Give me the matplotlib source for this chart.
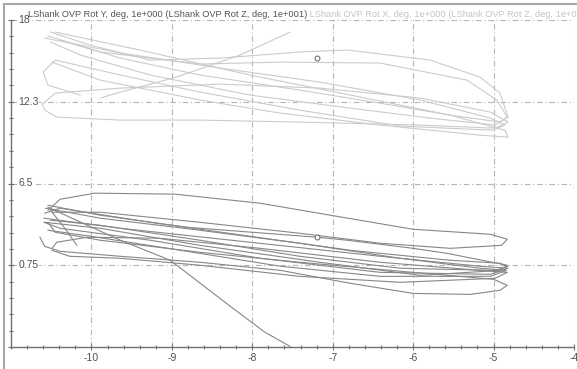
import numpy as np
import matplotlib
matplotlib.use('Agg')
import matplotlib.pyplot as plt
from matplotlib.lines import Line2D
from matplotlib.ticker import FixedLocator, MultipleLocator

plt.rcParams['font.family'] = ['Liberation Sans', 'DejaVu Sans']
plt.rcParams['axes.unicode_minus'] = False

# dark traces: LShank OVP Rot Y (y) vs LShank OVP Rot Z / 10 (x), one list per cycle
dark_x = [
    [-10.54, -10.39, -9.96, -8.96, -7.90, -7.03, -6.0, -5.04, -4.83, -4.90, -5.54, -6.41, -7.41, -8.65, -9.89, -10.49],
    [-10.58, -10.39, -9.27, -8.03, -6.78, -5.54, -4.92, -4.82, -4.98, -6.16, -7.41, -8.65, -9.89, -10.51],
    [-10.54, -9.89, -8.81, -7.19, -6.82, -6.0, -5.58, -4.83, -4.92, -5.91, -7.16, -8.65, -9.89, -10.58],
    [-10.59, -9.64, -8.03, -6.41, -5.17, -4.82, -5.04, -6.41, -7.90, -9.27, -10.39, -10.59],
    [-10.64, -10.58, -10.39, -9.64, -8.65, -7.65, -6.78, -6.0, -5.29, -4.92, -4.83, -5.0, -6.0, -7.41, -8.65, -9.89, -10.45, -10.54],
    [-10.49, -10.43, -10.05, -9.15, -7.90, -6.41, -5.17, -4.83, -4.98, -6.16, -7.41, -8.65, -9.64, -10.27, -10.49],
    [-10.57, -9.89, -8.65, -7.41, -6.16, -5.17, -4.84, -5.04, -6.41, -7.65, -8.89, -10.01, -10.54],
    [-10.54, -10.27, -9.64, -9.02, -8.24, -7.99, -7.84, -7.53],
    [-10.51, -10.33, -10.18],
]
dark_y = [
    [4.62, 5.39, 5.82, 5.75, 5.11, 4.27, 3.28, 2.93, 2.58, 2.15, 1.94, 2.30, 3.00, 3.77, 4.48, 4.48],
    [4.41, 4.76, 3.77, 2.79, 1.80, 1.10, 0.89, 0.68, 0.39, 0.54, 1.38, 2.51, 3.56, 3.92],
    [4.97, 4.27, 3.42, 2.72, 2.51, 1.94, 1.59, 0.75, 0.39, 0.04, 0.96, 2.15, 3.35, 3.77],
    [4.06, 3.35, 2.37, 1.38, 0.68, 0.54, 0.11, 0.25, 1.24, 2.51, 3.35, 3.77],
    [2.72, 2.08, 1.73, 1.38, 0.96, 0.39, -0.52, -1.23, -1.30, -1.01, -0.66, -0.24, 0.25, 0.96, 1.66, 2.51, 3.07, 3.77],
    [1.94, 2.37, 2.72, 2.65, 1.94, 0.96, 0.39, 0.25, -0.17, -0.45, -0.03, 0.75, 1.24, 1.38, 1.80],
    [4.76, 4.06, 3.21, 2.30, 1.24, 0.54, 0.39, -0.03, -0.03, 0.68, 1.80, 2.79, 3.21],
    [4.83, 4.13, 2.51, 1.10, -2.28, -3.34, -3.97, -4.96],
    [4.62, 3.35, 2.15],
]

# light traces: LShank OVP Rot X (y) vs LShank OVP Rot Z / 10 (x)
light_x = [
    [-10.51, -10.02, -9.27, -8.40, -7.41, -6.82, -5.79, -5.17, -4.92, -4.82, -4.92, -5.54, -6.41, -7.41, -8.65, -9.64, -10.39],
    [-10.54, -9.89, -8.65, -7.65, -6.41, -5.33, -4.96, -4.83, -4.98, -5.79, -6.78, -8.03, -9.27, -10.14, -10.51],
    [-10.61, -10.45, -9.64, -8.40, -7.16, -5.91, -5.04, -4.82, -4.98, -5.91, -7.41, -8.65, -9.64, -10.43, -10.58, -10.61],
    [-10.58, -9.64, -8.40, -7.16, -5.91, -5.04, -4.86, -5.0, -6.16, -7.41, -8.65, -9.64, -10.45, -10.60, -10.54, -10.14],
    [-10.45, -9.40, -8.03, -6.78, -5.54, -4.86, -4.82, -5.17, -6.41, -7.65, -8.65, -9.89, -10.49],
    [-9.89, -9.64, -8.94, -8.15, -7.53],
]
light_y = [
    [17.15, 16.24, 15.18, 15.32, 15.75, 15.89, 15.18, 13.99, 12.86, 11.17, 10.82, 11.31, 12.15, 13.07, 14.13, 15.32, 16.59],
    [16.87, 15.75, 14.90, 15.04, 14.97, 13.77, 12.37, 11.17, 10.61, 11.10, 11.80, 12.72, 14.13, 15.54, 16.45],
    [12.08, 12.86, 13.21, 13.49, 13.21, 12.51, 11.52, 10.82, 10.39, 10.61, 10.82, 10.96, 10.96, 11.17, 11.66, 12.08],
    [16.73, 15.68, 14.62, 13.63, 12.37, 11.10, 10.61, 10.25, 10.54, 11.66, 12.93, 14.13, 15.18, 14.34, 13.42, 12.72],
    [17.15, 15.89, 14.13, 12.72, 11.31, 10.25, 9.76, 9.90, 10.61, 11.45, 12.37, 13.77, 15.04],
    [12.51, 12.93, 13.99, 15.54, 17.15],
]

# current-frame cursor markers
cursor_x = [-7.19, -7.19]
cursor_y = [2.72, 15.32]

ytick_vals = [18, 12.25, 6.5, 0.75]
ytick_text = ['18', '12.3', '6.5', '0.75']
xtick_vals = [-10, -9, -8, -7, -6, -5, -4]

title_dark = 'LShank OVP Rot Y, deg, 1e+000 (LShank OVP Rot Z, deg, 1e+001)'
title_light = 'LShank OVP Rot X, deg, 1e+000 (LShank OVP Rot Z, deg, 1e+001)'

fig = plt.figure(figsize=(5.77, 3.69), dpi=100)
ax = fig.add_axes([11/577, 22/369, 563/577, 327/369])
ax.set_xlim(-11, -4)
ax.set_ylim(-5, 18)

# grid
for gx in xtick_vals:
    ax.axvline(gx, color='#b4b4b4', lw=0.8, dashes=(5, 2.5, 1, 2.5), zorder=1)
for gy in ytick_vals:
    ax.axhline(gy, color='#b4b4b4', lw=0.8, dashes=(5, 2.5, 1, 2.5), zorder=1)

for xs, ys in zip(light_x, light_y):
    ax.plot(xs, ys, color='#cbcbcb', lw=0.8, solid_joinstyle='round', zorder=2)
for xs, ys in zip(dark_x, dark_y):
    ax.plot(xs, ys, color='#878787', lw=0.8, solid_joinstyle='round', zorder=3)
ax.plot(cursor_x, cursor_y, 'o', ms=3.5, mfc='white', mec='#707070', mew=0.8, zorder=4)

# axes styling
for s in ['top', 'right']:
    ax.spines[s].set_visible(False)
for s in ['left', 'bottom']:
    ax.spines[s].set_color('#707070')
    ax.spines[s].set_linewidth(1.0)

ax.xaxis.set_major_locator(FixedLocator(xtick_vals))
ax.xaxis.set_minor_locator(MultipleLocator(0.2))
ax.yaxis.set_major_locator(FixedLocator(ytick_vals + [-5]))
ax.yaxis.set_minor_locator(FixedLocator(np.arange(-5, 18.01, 1.15)))
ax.tick_params(axis='both', which='both', direction='inout', color='#707070', width=0.8)
ax.tick_params(axis='both', which='major', length=5)
ax.tick_params(axis='both', which='minor', length=3)
ax.tick_params(axis='x', labelsize=7.5, labelcolor='#505050', pad=2)
ax.set_yticklabels([])

for v, t in zip(ytick_vals, ytick_text):
    ax.text(-10.91, v, t, ha='left', va='center', fontsize=7.5, color='#505050',
            bbox=dict(facecolor='white', edgecolor='none', pad=0.6), zorder=5)

# legend-like header
t1 = ax.text(-10.79, 18.06, title_dark, ha='left', va='bottom', fontsize=6.7, color='#555555', zorder=6)
ax.annotate(' ' + title_light, xy=(1, 0), xycoords=t1, ha='left', va='bottom',
            fontsize=6.7, color='#c4c4c4', annotation_clip=False)

# outer frame
fig.add_artist(Line2D([3.5/577, 3.5/577], [0, 1 - 3.5/369], transform=fig.transFigure, color='#a8a8a8', lw=1.5))
fig.add_artist(Line2D([3.5/577, 1], [1 - 3.5/369, 1 - 3.5/369], transform=fig.transFigure, color='#a8a8a8', lw=1.5))

fig.savefig('out.png', dpi=100)
